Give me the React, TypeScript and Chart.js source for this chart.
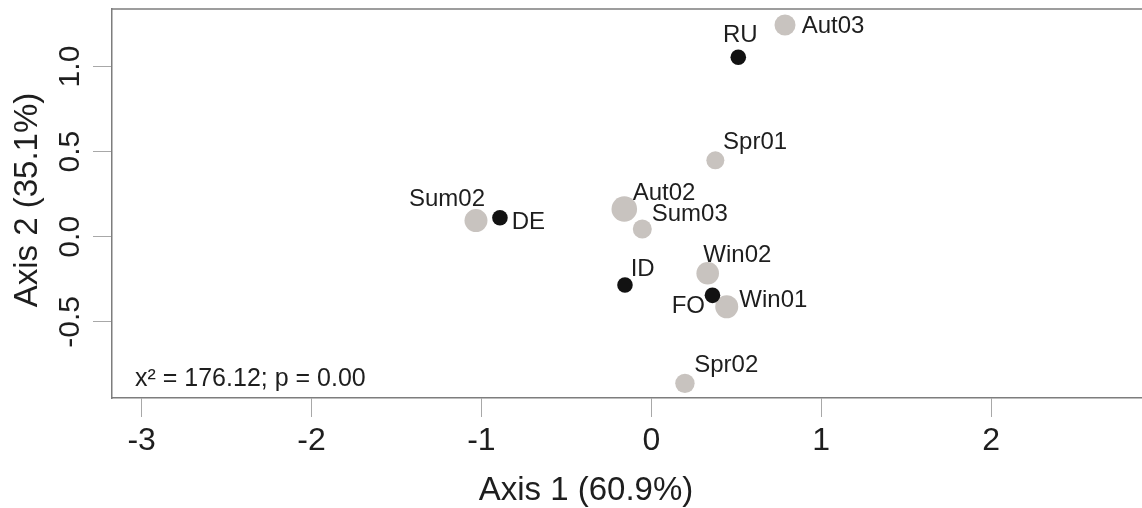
import React, { useEffect, useRef } from 'react';
import { Chart, registerables } from 'chart.js';

Chart.register(...registerables);

// ---- data ----
const countryNames = ['RU', 'DE', 'ID', 'FO'];
const countryX = [0.512, -0.891, -0.155, 0.36];
const countryY = [1.055, 0.112, -0.283, -0.344];

const seasonNames = ['Aut03', 'Spr01', 'Sum02', 'Aut02', 'Sum03', 'Win02', 'Win01', 'Spr02'];
const seasonX = [0.787, 0.377, -1.032, -0.159, -0.053, 0.332, 0.444, 0.198];
const seasonY = [1.244, 0.449, 0.095, 0.163, 0.046, -0.214, -0.411, -0.861];

const xTicks = [-3, -2, -1, 0, 1, 2];
const yTicks = [-0.5, 0, 0.5, 1.0];

const xTitle = 'Axis 1 (60.9%)';
const yTitle = 'Axis 2 (35.1%)';
const statText = 'x² = 176.12; p = 0.00';

// ---- styles ----
const FONT = 'Arial, "Liberation Sans", sans-serif';
const TEXT = '#1e1e1e';
const BLACK = '#121212';
const GRAY = '#c8c3bf';
const FRAME = '#7d7d7d';
const TICK = '#a8a8a8';
const countryRadius = [7.8, 7.8, 7.8, 7.8];
const seasonRadius = [10.5, 9, 11.5, 12.8, 9.5, 11.3, 11.5, 9.7];
// [textAlign, dx, dy] relative to point centre (dy = cap centre)
const countryLabelPlace: [CanvasTextAlign, number, number][] = [
  ['center', 2, -23.5],
  ['left', 11.7, 2.3],
  ['left', 5.7, -17.8],
  ['right', -7.5, 8.8],
];
const seasonLabelPlace: [CanvasTextAlign, number, number][] = [
  ['left', 16.7, -1],
  ['left', 7.7, -20.3],
  ['right', 9, -23],
  ['left', 8.4, -17.7],
  ['left', 9.4, -16.5],
  ['left', -4.4, -20],
  ['left', 12.6, -8.4],
  ['left', 9.3, -20],
];
const labelPlaces = [countryLabelPlace, seasonLabelPlace];
const labelNames = [countryNames, seasonNames];

const pointLabels = {
  id: 'pointLabels',
  afterDatasetsDraw(chart: any) {
    const ctx = chart.ctx;
    ctx.save();
    ctx.font = `24px ${FONT}`;
    ctx.fillStyle = TEXT;
    ctx.textBaseline = 'alphabetic';
    chart.data.datasets.forEach((_: any, di: number) => {
      const meta = chart.getDatasetMeta(di);
      meta.data.forEach((el: any, i: number) => {
        const [align, dx, dy] = labelPlaces[di][i];
        ctx.textAlign = align;
        ctx.fillText(labelNames[di][i], el.x + dx, el.y + dy + 24 * 0.358);
      });
    });
    ctx.restore();
  },
};

const decorations = {
  id: 'decorations',
  afterDraw(chart: any) {
    const ctx = chart.ctx;
    const a = chart.chartArea;
    ctx.save();
    // top frame line
    ctx.strokeStyle = FRAME;
    ctx.lineWidth = 1.5;
    ctx.beginPath();
    ctx.moveTo(a.left, a.top);
    ctx.lineTo(a.right, a.top);
    ctx.stroke();
    // stat annotation
    ctx.fillStyle = TEXT;
    ctx.font = `25px ${FONT}`;
    ctx.textAlign = 'left';
    ctx.textBaseline = 'alphabetic';
    ctx.fillText(statText, a.left + 23, a.bottom - 12);
    // x axis title
    ctx.font = `33px ${FONT}`;
    ctx.textAlign = 'center';
    ctx.fillText(xTitle, 586, 500);
    // y axis title
    ctx.translate(37, 200);
    ctx.rotate(-Math.PI / 2);
    ctx.fillText(yTitle, 0, 0);
    ctx.restore();
  },
};

export default function App() {
  const ref = useRef<HTMLCanvasElement | null>(null);
  useEffect(() => {
    if (!ref.current) return;
    const chart = new Chart(ref.current, {
      type: 'scatter',
      data: {
        datasets: [
          {
            label: 'Countries',
            data: countryX.map((x, i) => ({ x, y: countryY[i] })),
            backgroundColor: BLACK,
            borderWidth: 0,
            pointRadius: countryRadius,
            pointHoverRadius: countryRadius,
          },
          {
            label: 'Seasons',
            data: seasonX.map((x, i) => ({ x, y: seasonY[i] })),
            backgroundColor: GRAY,
            borderWidth: 0,
            pointRadius: seasonRadius,
            pointHoverRadius: seasonRadius,
          },
        ],
      },
      options: {
        animation: false,
        responsive: true,
        maintainAspectRatio: false,
        layout: { autoPadding: false, padding: { top: 9, left: 0, right: 0, bottom: 0 } },
        plugins: { legend: { display: false }, tooltip: { enabled: false } },
        scales: {
          x: {
            type: 'linear',
            position: 'bottom',
            min: -3.1746,
            max: 2.8885,
            afterBuildTicks: (s: any) => {
              s.ticks = xTicks.map((v) => ({ value: v }));
            },
            afterFit: (s: any) => {
              s.height = 110;
              s.paddingLeft = 0;
              s.paddingRight = 0;
            },
            grid: { drawOnChartArea: false, drawTicks: true, tickLength: 19, color: TICK, lineWidth: 1 },
            border: { display: true, color: FRAME, width: 1.5 },
            ticks: {
              font: { family: FONT, size: 32 },
              color: TEXT,
              padding: 5,
              maxRotation: 0,
              autoSkip: false,
              callback: (v: any) => String(v),
            },
          },
          y: {
            type: 'linear',
            position: 'left',
            min: -0.947,
            max: 1.338,
            afterBuildTicks: (s: any) => {
              s.ticks = yTicks.map((v) => ({ value: v }));
            },
            afterFit: (s: any) => {
              s.width = 112;
              s.paddingTop = 0;
              s.paddingBottom = 0;
            },
            grid: { drawOnChartArea: false, drawTicks: true, tickLength: 19, color: TICK, lineWidth: 1 },
            border: { display: true, color: FRAME, width: 1.5 },
            ticks: {
              font: { family: FONT, size: 30 },
              color: TEXT,
              padding: -4,
              minRotation: 90,
              maxRotation: 90,
              crossAlign: 'center',
              autoSkip: false,
              callback: (v: any) => Number(v).toFixed(1),
            },
          },
        },
      },
      plugins: [pointLabels, decorations],
    });
    return () => chart.destroy();
  }, []);

  return (
    <div style={{ position: 'fixed', left: 0, top: 0, width: 1142, height: 508, background: '#fff' }}>
      <canvas ref={ref} />
    </div>
  );
}
